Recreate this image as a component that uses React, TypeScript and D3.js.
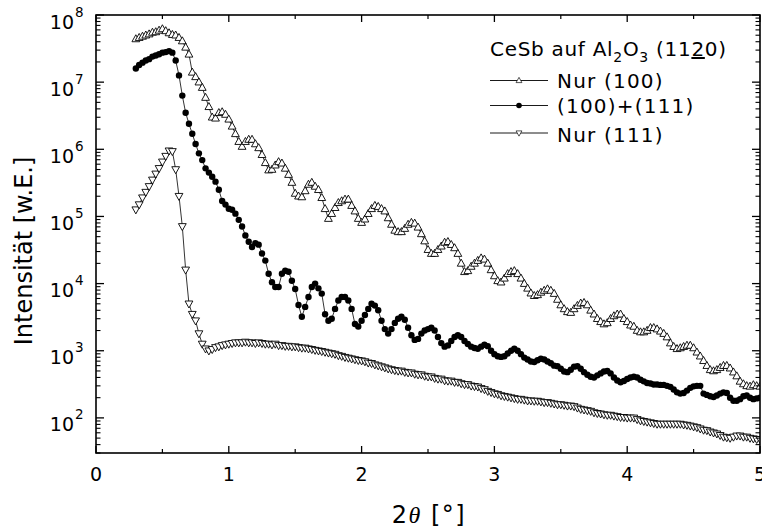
import React from 'react';
import * as d3 from 'd3';

// sampling grid of 2θ (degrees)
const X_START = 0.3;
const X_STEP = 0.025;
const X_COUNT = 189;
const twoTheta: number[] = d3.range(X_COUNT).map((i) => +(X_START + i * X_STEP).toFixed(3));

// Nur (100) — open up-triangles
const nur100: number[] = [
  4.4e7, 4.6e7, 4.8e7, 5.0e7, 5.2e7, 5.5e7, 5.6e7, 5.9e7,
  6.2e7, 5.8e7, 5.4e7, 5.1e7, 5.0e7, 4.6e7, 4.1e7, 3.3e7,
  2.6e7, 1.4e7, 1.2e7, 1.0e7, 8.3e6, 5.9e6, 4.3e6, 3.0e6,
  2.9e6, 3.5e6, 3.6e6, 3.3e6, 2.8e6, 2.2e6, 1.7e6, 1.3e6,
  1.1e6, 1.3e6, 1.4e6, 1.4e6, 1.2e6, 1.05e6, 8.3e5, 6.3e5,
  4.9e5, 5.0e5, 5.8e5, 6.5e5, 6.2e5, 5.2e5, 4.2e5, 3.2e5,
  2.2e5, 2.0e5, 1.95e5, 2.4e5, 3.0e5, 3.2e5, 2.8e5, 2.5e5,
  1.9e5, 1.3e5, 9.3e4, 1.1e5, 1.35e5, 1.6e5, 1.7e5, 1.8e5,
  1.8e5, 1.45e5, 1.2e5, 9.3e4, 8.1e4, 9.1e4, 1.1e5, 1.3e5,
  1.45e5, 1.4e5, 1.3e5, 1.2e5, 9.5e4, 7.6e4, 6.2e4, 5.9e4,
  5.9e4, 6.6e4, 7.6e4, 8.1e4, 7.9e4, 6.9e4, 5.5e4, 4.3e4,
  3.2e4, 2.8e4, 2.8e4, 3.2e4, 3.6e4, 4.1e4, 4.2e4, 3.8e4,
  3.4e4, 2.8e4, 2.0e4, 1.5e4, 1.55e4, 1.8e4, 2.0e4, 2.2e4,
  2.4e4, 2.3e4, 2.0e4, 1.6e4, 1.3e4, 1.1e4, 1.05e4, 1.2e4,
  1.4e4, 1.5e4, 1.55e4, 1.4e4, 1.2e4, 1.0e4, 8.5e3, 7.2e3,
  6.6e3, 6.8e3, 7.4e3, 7.9e3, 8.3e3, 7.9e3, 7.1e3, 5.8e3,
  4.8e3, 4.2e3, 3.8e3, 3.7e3, 4.2e3, 4.7e3, 5.1e3, 5.2e3,
  4.8e3, 4.0e3, 3.5e3, 3.0e3, 2.7e3, 2.5e3, 2.6e3, 3.0e3,
  3.3e3, 3.5e3, 3.5e3, 3.0e3, 2.7e3, 2.4e3, 2.3e3, 2.0e3,
  1.9e3, 1.9e3, 2.0e3, 2.2e3, 2.2e3, 2.1e3, 1.95e3, 1.8e3,
  1.6e3, 1.3e3, 1.15e3, 1.07e3, 1.1e3, 1.15e3, 1.2e3, 1.2e3,
  1.1e3, 950, 830, 710, 600, 520, 500, 520,
  560, 600, 600, 550, 480, 420, 350, 320,
  300, 295, 310, 300, 295,
];

// (100)+(111) — filled circles
const mixed: number[] = [
  1.6e7, 1.8e7, 1.95e7, 2.1e7, 2.2e7, 2.4e7, 2.5e7, 2.6e7,
  2.75e7, 2.8e7, 2.9e7, 2.75e7, 2.1e7, 1.26e7, 6.3e6, 3.5e6,
  2.4e6, 1.7e6, 1.2e6, 8.7e5, 6.9e5, 5.2e5, 4.5e5, 3.9e5,
  3.3e5, 2.5e5, 1.7e5, 1.5e5, 1.3e5, 1.26e5, 1.1e5, 8.9e4,
  7.1e4, 5.2e4, 4.2e4, 3.5e4, 4.0e4, 3.8e4, 2.8e4, 2.2e4,
  1.4e4, 1.05e4, 8.9e3, 8.9e3, 1.4e4, 1.55e4, 1.5e4, 1.1e4,
  8.3e3, 4.8e3, 3.2e3, 4.5e3, 6.3e3, 8.9e3, 1.0e4, 8.5e3,
  7.1e3, 3.5e3, 2.8e3, 3.0e3, 4.2e3, 5.6e3, 6.3e3, 6.3e3,
  5.6e3, 4.2e3, 2.5e3, 2.3e3, 2.8e3, 3.4e3, 4.2e3, 5.0e3,
  4.7e3, 4.0e3, 2.8e3, 2.1e3, 1.8e3, 2.1e3, 2.6e3, 3.0e3,
  3.2e3, 2.9e3, 2.2e3, 1.7e3, 1.45e3, 1.5e3, 1.8e3, 2.0e3,
  2.1e3, 2.2e3, 2.0e3, 1.6e3, 1.3e3, 1.15e3, 1.2e3, 1.4e3,
  1.6e3, 1.7e3, 1.6e3, 1.4e3, 1.26e3, 1.15e3, 1.1e3, 1.07e3,
  1.15e3, 1.23e3, 1.17e3, 1.0e3, 890, 830, 810, 830,
  910, 1.0e3, 1.07e3, 1.0e3, 890, 790, 740, 690,
  680, 720, 760, 740, 690, 650, 600, 590,
  540, 490, 480, 520, 580, 590, 540, 480,
  440, 410, 400, 430, 460, 490, 500, 460,
  400, 360, 340, 355, 380, 400, 410, 400,
  370, 350, 330, 325, 315, 315, 310, 310,
  300, 290, 265, 240, 230, 235, 255, 280,
  295, 300, 300, 230, 220, 210, 205, 215,
  230, 240, 235, 200, 180, 180, 190, 210,
  215, 200, 190, 195, 200,
];

// Nur (111) — open down-triangles
const nur111: number[] = [
  1.26e5, 1.5e5, 1.9e5, 2.3e5, 2.8e5, 3.5e5, 4.3e5, 5.2e5,
  6.5e5, 7.9e5, 9.5e5, 9.3e5, 5.0e5, 2.0e5, 7.1e4, 1.6e4,
  5.0e3, 3.5e3, 2.8e3, 1.8e3, 1.26e3, 1.07e3, 1.0e3, 1.05e3,
  1.12e3, 1.15e3, 1.2e3, 1.23e3, 1.26e3, 1.29e3, 1.32e3, 1.32e3,
  1.32e3, 1.35e3, 1.32e3, 1.32e3, 1.29e3, 1.32e3, 1.29e3, 1.26e3,
  1.26e3, 1.23e3, 1.26e3, 1.2e3, 1.2e3, 1.17e3, 1.17e3, 1.15e3,
  1.15e3, 1.12e3, 1.1e3, 1.1e3, 1.07e3, 1.05e3, 1.02e3, 1.0e3,
  980, 955, 930, 910, 890, 850, 830, 800,
  780, 760, 740, 720, 710, 690, 660, 650,
  620, 600, 580, 560, 540, 525, 510, 500,
  500, 480, 470, 470, 450, 440, 440, 420,
  410, 410, 390, 380, 380, 360, 355, 355,
  340, 340, 325, 315, 315, 300, 295, 290,
  275, 265, 250, 240, 230, 225, 215, 210,
  205, 200, 195, 190, 190, 185, 180, 180,
  178, 178, 174, 170, 170, 166, 162, 158,
  158, 155, 151, 151, 148, 141, 135, 132,
  129, 126, 120, 117, 115, 112, 110, 110,
  107, 105, 102, 102, 100, 100, 100, 95,
  91, 89, 87, 85, 83, 81, 81, 81,
  81, 81, 81, 81, 81, 79, 78, 76,
  74, 72, 69, 66, 65, 62, 60, 58,
  55, 52, 51, 50, 52, 54, 54, 52,
  52, 50, 49, 48, 48,
];

const xTicksMajor = [0, 1, 2, 3, 4, 5];
const xTicksMinor = [0.5, 1.5, 2.5, 3.5, 4.5];
const yDecades = [2, 3, 4, 5, 6, 7, 8];

const legendLabels = ['Nur (100)', '(100)+(111)', 'Nur (111)'];

const W = 762;
const H = 529;
const L = 96;
const R = 760;
const T = 15;
const B = 453;
const FONT = 'DejaVu Sans, Verdana, sans-serif';

const upTri = 'M0,-4.2L3.9,2.8L-3.9,2.8Z';
const downTri = 'M0,4.2L3.9,-2.8L-3.9,-2.8Z';

export default function App() {
  const x = d3.scaleLinear().domain([0, 5]).range([L, R]);
  const y = d3.scaleLog().domain([30, 1e8]).range([B, T]);

  const series = [
    { name: legendLabels[0], vals: nur100, kind: 'up' },
    { name: legendLabels[1], vals: mixed, kind: 'dot' },
    { name: legendLabels[2], vals: nur111, kind: 'down' },
  ];

  const line = d3
    .line<[number, number]>()
    .x((d) => x(d[0]))
    .y((d) => y(d[1]));

  const minorY: number[] = [];
  for (let e = 1; e < 8; e++) {
    for (let m = 2; m <= 9; m++) {
      const v = m * Math.pow(10, e);
      if (v >= 30 && v < 1e8) minorY.push(v);
    }
  }

  const marker = (kind: string, key: string | number, cx: number, cy: number, small = false) => {
    const s = small ? 0.75 : 1;
    if (kind === 'dot')
      return <circle key={key} cx={cx} cy={cy} r={small ? 2.8 : 3.2} fill="#000" />;
    return (
      <path
        key={key}
        d={kind === 'up' ? upTri : downTri}
        transform={`translate(${cx},${cy}) scale(${s})`}
        fill="#fff"
        stroke="#000"
        strokeWidth={0.9}
      />
    );
  };

  return (
    <svg
      width={W}
      height={H}
      style={{ position: 'absolute', left: 0, top: 0, background: '#fff' }}
      fontFamily={FONT}
    >
      <defs>
        <clipPath id="plotclip">
          <rect x={L} y={T} width={R - L} height={B - T} />
        </clipPath>
      </defs>
      <rect x={0} y={0} width={W} height={H} fill="#fff" />

      {/* data */}
      <g clipPath="url(#plotclip)">
        {series.map((s, si) => {
          const pts: [number, number][] = twoTheta.map((t, i) => [t, s.vals[i]]);
          return (
            <g key={si}>
              <path d={line(pts) || ''} fill="none" stroke="#000" strokeWidth={0.8} />
              {pts.map((p, i) => marker(s.kind, i, x(p[0]), y(p[1])))}
            </g>
          );
        })}
      </g>

      {/* frame */}
      <rect x={L} y={T} width={R - L} height={B - T} fill="none" stroke="#000" strokeWidth={1.6} />

      {/* x ticks */}
      {xTicksMajor.map((t) => (
        <g key={'xm' + t}>
          <line x1={x(t)} x2={x(t)} y1={B} y2={B - 7} stroke="#000" strokeWidth={1.3} />
          <line x1={x(t)} x2={x(t)} y1={T} y2={T + 7} stroke="#000" strokeWidth={1.3} />
          <text x={x(t)} y={481} fontSize={19} textAnchor="middle" fill="#000">
            {t}
          </text>
        </g>
      ))}
      {xTicksMinor.map((t) => (
        <g key={'xn' + t}>
          <line x1={x(t)} x2={x(t)} y1={B} y2={B - 4} stroke="#000" strokeWidth={1.2} />
          <line x1={x(t)} x2={x(t)} y1={T} y2={T + 4} stroke="#000" strokeWidth={1.2} />
        </g>
      ))}

      {/* y ticks */}
      {yDecades.map((e) => {
        const yy = y(Math.pow(10, e));
        return (
          <g key={'yd' + e}>
            <line x1={L} x2={L + 8} y1={yy} y2={yy} stroke="#000" strokeWidth={1.3} />
            <line x1={R} x2={R - 8} y1={yy} y2={yy} stroke="#000" strokeWidth={1.3} />
            <text x={74} y={yy + 13.5} fontSize={19} textAnchor="end" fill="#000">
              10
            </text>
            <text x={75} y={yy + 1.5} fontSize={13.5} fill="#000">
              {e}
            </text>
          </g>
        );
      })}
      {minorY.map((v, i) => {
        const yy = y(v);
        return (
          <g key={'ym' + i}>
            <line x1={L} x2={L + 4.5} y1={yy} y2={yy} stroke="#000" strokeWidth={1.1} />
            <line x1={R} x2={R - 4.5} y1={yy} y2={yy} stroke="#000" strokeWidth={1.1} />
          </g>
        );
      })}

      {/* axis titles */}
      <text x={429} y={523} fontSize={24} textAnchor="middle" fill="#000" letterSpacing={1.5}>
        2
        <tspan fontFamily="Liberation Serif, serif" fontStyle="italic">
          θ
        </tspan>
        {' [°]'}
      </text>
      <text
        transform="translate(32,251) rotate(-90)"
        fontSize={24}
        textAnchor="middle"
        fill="#000"
      >
        Intensität [w.E.]
      </text>

      {/* legend */}
      <text x={490} y={56} fontSize={20} fill="#000" letterSpacing={0.7}>
        CeSb auf Al
        <tspan dy={6} fontSize={14}>2</tspan>
        <tspan dy={-6}>O</tspan>
        <tspan dy={6} fontSize={14}>3</tspan>
        <tspan dy={-6}>{' (11'}</tspan>
        <tspan style={{ textDecoration: 'underline' }}>2</tspan>
        <tspan>0)</tspan>
      </text>
      {series.map((s, i) => {
        const ly = [80.5, 105.5, 133][i];
        const ty = [87.5, 112.5, 142][i];
        return (
          <g key={'lg' + i}>
            <line x1={490} x2={548} y1={ly} y2={ly} stroke="#000" strokeWidth={0.9} />
            {marker(s.kind, 'm', 519, ly, true)}
            <text x={557} y={ty} fontSize={20} fill="#000" letterSpacing={1.2}>
              {s.name}
            </text>
          </g>
        );
      })}
    </svg>
  );
}
